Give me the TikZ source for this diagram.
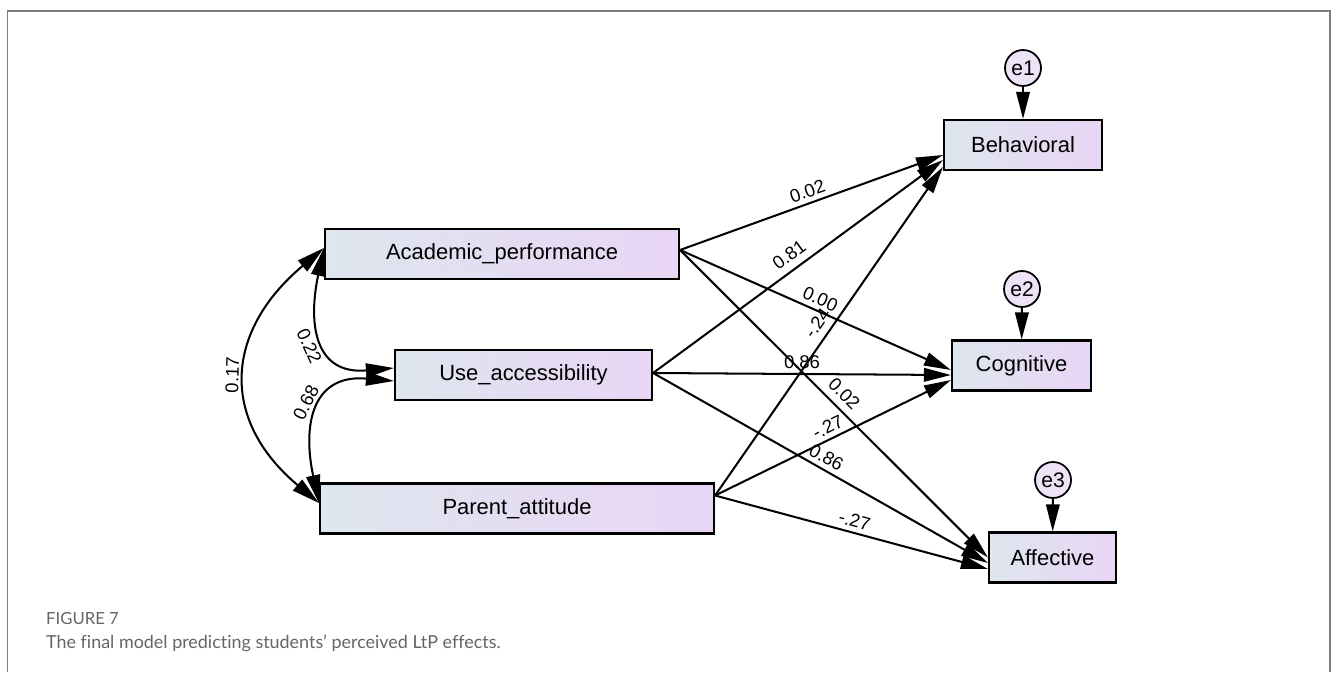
\documentclass[tikz,border=0pt]{standalone}
\usepackage{fontspec}
\setmainfont{Liberation Sans}
\newfontfamily\capfont[Ligatures={NoCommon}]{Lato}
\usetikzlibrary{arrows.meta}
\definecolor{boxleft}{RGB}{222,230,238}
\definecolor{boxright}{RGB}{233,213,245}
\definecolor{errfill}{RGB}{237,226,246}
\definecolor{framegray}{RGB}{125,125,125}
\definecolor{capgray}{RGB}{100,100,100}
\tikzset{
    obsbox/.style = {rectangle, line width=1.2pt, draw=black, left color=boxleft, right color=boxright, minimum height=10mm, inner sep=0pt, font=\fontsize{12.5}{15}\selectfont},
    errnode/.style = {circle, line width=1pt, draw=black, fill=errfill, minimum size=7.2mm, inner sep=0pt, font=\fontsize{12}{14}\selectfont},
    regr/.style = {-{Triangle[length=5.4mm,width=2.7mm]}, line width=1.15pt},
    covr/.style = {{Triangle[length=5.6mm,width=2.8mm]}-{Triangle[length=5.6mm,width=2.8mm]}, line width=1.15pt},
    coef/.style = {font=\fontsize{10.5}{12}\selectfont, inner sep=2.5pt},
}

\begin{document}
\begin{tikzpicture}[x=0.2mm,y=0.2mm]
  \useasboundingbox (0,0) rectangle (1333,-672);
  \draw[framegray, line width=0.9pt] (7.5,-672) -- (7.5,-11) -- (1330,-11) -- (1330,-672);

  % predictors
  \node[obsbox, minimum width=70.8mm] (acad) at (502,-254) {Academic\_performance};
  \node[obsbox, minimum width=51.4mm] (use) at (523.5,-375) {Use\_accessibility};
  \node[obsbox, minimum width=78.8mm] (par) at (517,-508.5) {Parent\_attitude};

  % outcomes
  \node[obsbox, minimum width=31.6mm] (beh) at (1023,-145) {Behavioral};
  \node[obsbox, minimum width=27.8mm] (cog) at (1021.5,-365.5) {Cognitive};
  \node[obsbox, minimum width=25.4mm] (aff) at (1052.5,-557.5) {Affective};

  \node[errnode] (e1) at (1023,-68) {e1};
  \node[errnode] (e2) at (1022,-289) {e2};
  \node[errnode] (e3) at (1053,-480) {e3};
  \draw[regr] (e1) -- (beh);
  \draw[regr] (e2) -- (cog);
  \draw[regr] (e3) -- (aff);

  % paths to Behavioral
  \draw[regr] ([yshift=0.8mm]acad.east) -- node[coef, midway, above, sloped] {0.02} ([yshift=-2mm]beh.west);
  \draw[regr] ([yshift=0.4mm]use.east) -- node[coef, midway, above, sloped, yshift=0.6mm] {0.81} ([yshift=-3mm]beh.west);
  \draw[regr] ([yshift=2.6mm]par.east) -- node[coef, midway, above, sloped, yshift=0.5mm] {-.24} ([yshift=-4.4mm]beh.west);
  % paths to Cognitive
  \draw[regr] ([yshift=0.8mm]acad.east) -- node[coef, midway, above, sloped] {0.00} ([yshift=-0.9mm]cog.west);
  \draw[regr] ([yshift=0.4mm]use.east) -- node[coef, midway, above, sloped] {0.86} ([yshift=-1.9mm]cog.west);
  \draw[regr] ([yshift=2.6mm]par.east) -- node[coef, midway, above, sloped] {-.27} ([yshift=-2.9mm]cog.west);
  % paths to Affective
  \draw[regr] ([yshift=0.8mm]acad.east) -- node[coef, midway, above, sloped, yshift=0.5mm] {0.02} (aff.west);
  \draw[regr] ([yshift=0.4mm]use.east) -- node[coef, midway, above, sloped] {0.86} ([yshift=-1.1mm]aff.west);
  \draw[regr] ([yshift=2.6mm]par.east) -- node[coef, midway, above, sloped] {-.27} ([yshift=-2.3mm]aff.west);

  % correlations
  \draw[covr] ([yshift=1.1mm]par.west) to[out=140, in=220, looseness=1.3] node[coef, midway, above, sloped, inner sep=4pt] {0.17} ([yshift=1.2mm]acad.west);
  \draw[covr] ([yshift=1.2mm]acad.west) to[out=258, in=185, looseness=1.45] node[coef, midway, below, sloped, inner sep=4.5pt] {0.22} ([yshift=1.4mm]use.west);
  \draw[covr] ([yshift=1.1mm]par.west) to[out=102, in=175, looseness=1.45] node[coef, midway, above, sloped, inner sep=4.5pt] {0.68} ([yshift=-1.2mm]use.west);

  \node[anchor=base west, text=capgray, font=\capfont\fontsize{9.5}{11}\selectfont] (fignum) at (40,-624) {FIGURE 7};
  \node[anchor=base west, text=capgray, font=\capfont\fontsize{10.2}{13}\selectfont] (figcap) at (40,-648) {The final model predicting students’ perceived LtP effects.};
\end{tikzpicture}
\end{document}
